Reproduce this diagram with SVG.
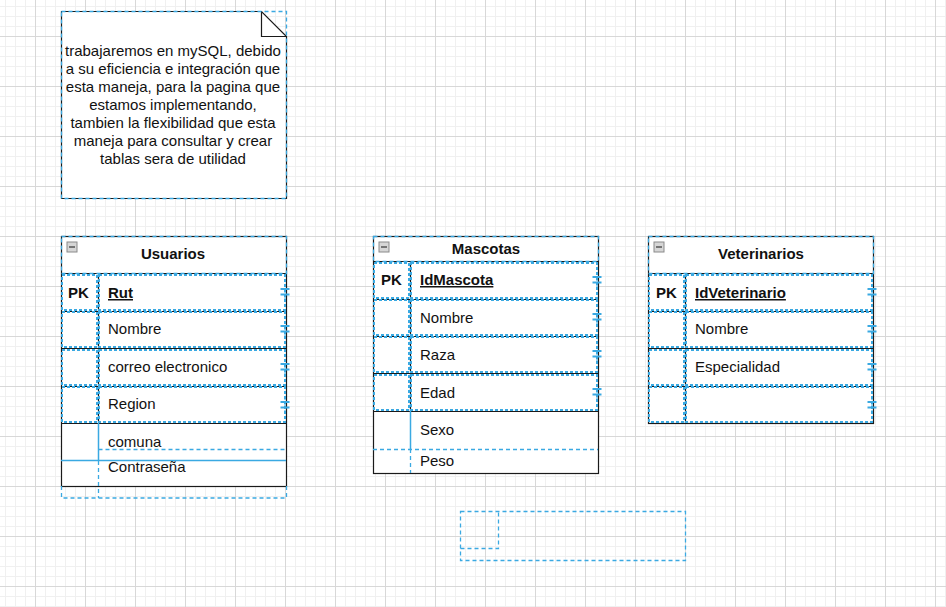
<svg xmlns="http://www.w3.org/2000/svg" width="946" height="607" viewBox="0 0 946 607">
<defs>
<pattern id="grid" x="35" y="36" width="50" height="50" patternUnits="userSpaceOnUse">
<rect width="50" height="50" fill="#ffffff"/>
<g fill="#f0f0f0"><rect x="10" y="0" width="1" height="50"/><rect x="20" y="0" width="1" height="50"/><rect x="30" y="0" width="1" height="50"/><rect x="40" y="0" width="1" height="50"/><rect x="0" y="10" width="50" height="1"/><rect x="0" y="20" width="50" height="1"/><rect x="0" y="30" width="50" height="1"/><rect x="0" y="40" width="50" height="1"/></g>
<g fill="#d8d8d8"><rect x="0" y="0" width="1" height="50"/><rect x="0" y="0" width="50" height="1"/></g>
</pattern>
<g id="hdl"><path d="M-4.5,-3H4.5M-4.5,2.5H4.5" stroke="#3aa9e2" stroke-width="2.2"/><path d="M0,-7V7" stroke="#3aa9e2" stroke-width="1" stroke-dasharray="2 1"/></g>
<g id="col"><rect x="0" y="0" width="10" height="10" fill="#d6d6d6" stroke="#8a8a8a"/><path d="M2,5H8" stroke="#555" stroke-width="1.5"/></g>
</defs>
<style>
.t{font-family:"Liberation Sans",Arial,Helvetica,sans-serif;font-size:15px;fill:#111}
.b{font-weight:bold}
.c{text-anchor:middle}
.u{text-decoration:underline}
.blk{fill:#fff;stroke:#1a1a1a;stroke-width:1.2}
.ln{stroke:#1a1a1a;stroke-width:1.2;fill:none}
.sel{fill:none;stroke:#3aa9e2;stroke-width:2;stroke-dasharray:3 2}
.sel1{fill:none;stroke:#3aa9e2;stroke-width:1.3;stroke-dasharray:4 3}
.bl{stroke:#3aa9e2;stroke-width:1.5;fill:none}
</style>
<rect width="946" height="607" fill="url(#grid)"/>

<g id="note">
<path class="blk" d="M61.5,11.5H261.5L286.5,36.5V198.5H61.5Z"/>
<path class="ln" d="M261.5,11.5V36.5H286.5"/>
<rect class="sel1" x="61.5" y="11.5" width="225" height="187"/>
<g class="t c">
<text x="173" y="56">trabajaremos en mySQL, debido</text>
<text x="173" y="74">a su eficiencia e integración que</text>
<text x="173" y="92">esta maneja, para la pagina que</text>
<text x="173" y="110">estamos implementando,</text>
<text x="173" y="128">tambien la flexibilidad que esta</text>
<text x="173" y="146">maneja para consultar y crear</text>
<text x="173" y="164">tablas sera de utilidad</text>
</g>
</g>

<g id="usuarios">
<rect class="blk" x="61.5" y="236.5" width="225" height="250"/>
<path class="ln" d="M61,273.5H286M61,311.5H286M61,348.5H286M61,386.5H286M61,423.5H286M98.5,273V423"/>
<path class="bl" d="M98.5,423V460M61,460.5H286"/>
<path class="sel1" d="M98.5,449.5H286M98.5,461V498M61.5,486V498H286.5V486"/>
<rect class="sel1" x="61.5" y="236.5" width="225" height="37"/>
<rect class="sel" x="62" y="275" width="35" height="35"/><rect class="sel" x="99" y="275" width="186" height="35"/>
<rect class="sel" x="62" y="312" width="35" height="35"/><rect class="sel" x="99" y="312" width="186" height="35"/>
<rect class="sel" x="62" y="350" width="35" height="35"/><rect class="sel" x="99" y="350" width="186" height="35"/>
<rect class="sel" x="62" y="387" width="35" height="35"/><rect class="sel" x="99" y="387" width="186" height="35"/>
<use href="#col" x="67" y="242"/>
<use href="#hdl" x="285" y="292"/><use href="#hdl" x="285" y="329"/><use href="#hdl" x="285" y="367"/><use href="#hdl" x="285" y="405"/>
<text class="t b c" x="173" y="259">Usuarios</text>
<text class="t b" x="68" y="298">PK</text>
<text class="t b u" x="108" y="298">Rut</text>
<text class="t" x="108" y="334">Nombre</text>
<text class="t" x="108" y="372">correo electronico</text>
<text class="t" x="108" y="409">Region</text>
<text class="t" x="108" y="447">comuna</text>
<text class="t" x="108" y="472">Contraseña</text>
</g>

<g id="mascotas">
<rect class="blk" x="373.5" y="236.5" width="225" height="237"/>
<path class="ln" d="M373,261.5H598M373,299.5H598M373,336.5H598M373,373.5H598M373,411.5H598M410.5,261V411"/>
<path class="bl" d="M410.5,411V449"/>
<path class="sel1" d="M373,449.5H598M410.5,449V473"/>
<rect class="sel1" x="373.5" y="236.5" width="225" height="25"/>
<rect class="sel" x="374" y="263" width="35" height="35"/><rect class="sel" x="411" y="263" width="186" height="35"/>
<rect class="sel" x="374" y="300" width="35" height="35"/><rect class="sel" x="411" y="300" width="186" height="35"/>
<rect class="sel" x="374" y="337" width="35" height="35"/><rect class="sel" x="411" y="337" width="186" height="35"/>
<rect class="sel" x="374" y="375" width="35" height="35"/><rect class="sel" x="411" y="375" width="186" height="35"/>
<use href="#col" x="379" y="242"/>
<use href="#hdl" x="597" y="280"/><use href="#hdl" x="597" y="317"/><use href="#hdl" x="597" y="354"/><use href="#hdl" x="597" y="392"/>
<text class="t b c" x="486" y="254">Mascotas</text>
<text class="t b" x="381" y="285">PK</text>
<text class="t b u" x="420" y="285">IdMascota</text>
<text class="t" x="420" y="323">Nombre</text>
<text class="t" x="420" y="360">Raza</text>
<text class="t" x="420" y="398">Edad</text>
<text class="t" x="420" y="435">Sexo</text>
<text class="t" x="420" y="466">Peso</text>
</g>

<g id="veterinarios">
<rect class="blk" x="648.5" y="236.5" width="225" height="187"/>
<path class="ln" d="M648,273.5H873M648,311.5H873M648,348.5H873M648,386.5H873M685.5,273V423"/>
<rect class="sel1" x="648.5" y="236.5" width="225" height="37"/>
<rect class="sel" x="649" y="275" width="35" height="35"/><rect class="sel" x="686" y="275" width="186" height="35"/>
<rect class="sel" x="649" y="312" width="35" height="35"/><rect class="sel" x="686" y="312" width="186" height="35"/>
<rect class="sel" x="649" y="350" width="35" height="35"/><rect class="sel" x="686" y="350" width="186" height="35"/>
<rect class="sel" x="649" y="387" width="35" height="35"/><rect class="sel" x="686" y="387" width="186" height="35"/>
<use href="#col" x="654" y="242"/>
<use href="#hdl" x="872" y="292"/><use href="#hdl" x="872" y="329"/><use href="#hdl" x="872" y="367"/><use href="#hdl" x="872" y="405"/>
<text class="t b c" x="761" y="259">Veterinarios</text>
<text class="t b" x="656" y="298">PK</text>
<text class="t b u" x="695" y="298">IdVeterinario</text>
<text class="t" x="695" y="334">Nombre</text>
<text class="t" x="695" y="372">Especialidad</text>
</g>

<g id="empty">
<rect class="sel1" x="460.5" y="511.5" width="225" height="49"/>
<path class="sel1" d="M460.5,548.5H498.5V511"/>
</g>
<g id="connectors"></g>
</svg>
